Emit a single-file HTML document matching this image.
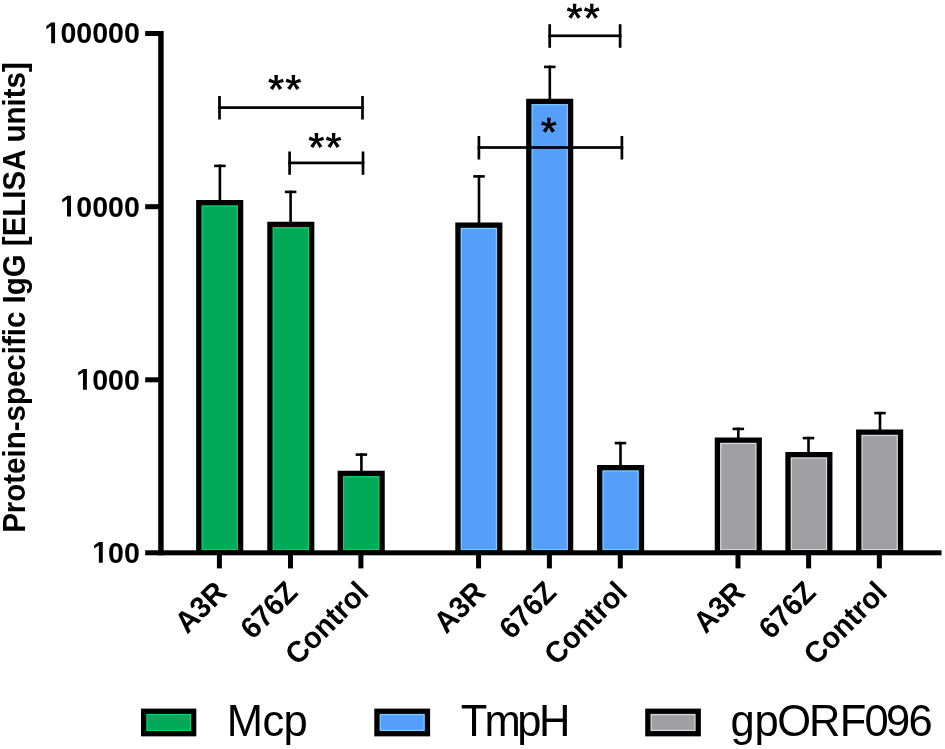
<!DOCTYPE html>
<html>
<head>
<meta charset="utf-8">
<title>Protein-specific IgG</title>
<style>
  html, body { margin: 0; padding: 0; background: #ffffff; }
  body { width: 945px; height: 749px; overflow: hidden; font-family: "Liberation Sans", sans-serif; }
  svg { display: block; will-change: transform; }
  text { font-family: "Liberation Sans", sans-serif; fill: #000; }
  .b { font-weight: bold; }
  .tick { font-size: 28.6px; font-weight: bold; text-anchor: end; }
  .xl { font-size: 28.9px; font-weight: bold; text-anchor: end; }
  .leg { font-size: 43.5px; }
</style>
</head>
<body>
<svg width="945" height="749" viewBox="0 0 945 749">
  <rect x="0" y="0" width="945" height="749" fill="#ffffff"/>

  <!-- bars -->
  <rect x="196.15" y="200.00" width="47.10" height="351.30" fill="#000"/>
  <rect x="201.45" y="205.30" width="36.50" height="345.00" fill="#00d672"/>
  <rect x="202.70" y="206.55" width="34.00" height="342.50" fill="#00a857"/>
  <rect x="267.25" y="221.75" width="47.10" height="329.55" fill="#000"/>
  <rect x="272.55" y="227.05" width="36.50" height="323.25" fill="#00d672"/>
  <rect x="273.80" y="228.30" width="34.00" height="320.75" fill="#00a857"/>
  <rect x="337.65" y="470.75" width="47.10" height="80.55" fill="#000"/>
  <rect x="342.95" y="476.05" width="36.50" height="74.25" fill="#00d672"/>
  <rect x="344.20" y="477.30" width="34.00" height="71.75" fill="#00a857"/>
  <rect x="455.30" y="222.50" width="47.10" height="328.80" fill="#000"/>
  <rect x="460.60" y="227.80" width="36.50" height="322.50" fill="#76d0ff"/>
  <rect x="461.85" y="229.05" width="34.00" height="320.00" fill="#559ffb"/>
  <rect x="526.15" y="98.75" width="47.10" height="452.55" fill="#000"/>
  <rect x="531.45" y="104.05" width="36.50" height="446.25" fill="#76d0ff"/>
  <rect x="532.70" y="105.30" width="34.00" height="443.75" fill="#559ffb"/>
  <rect x="597.05" y="465.00" width="47.10" height="86.30" fill="#000"/>
  <rect x="602.35" y="470.30" width="36.50" height="80.00" fill="#76d0ff"/>
  <rect x="603.60" y="471.55" width="34.00" height="77.50" fill="#559ffb"/>
  <rect x="714.75" y="437.50" width="47.10" height="113.80" fill="#000"/>
  <rect x="720.05" y="442.80" width="36.50" height="107.50" fill="#d9d9dd"/>
  <rect x="721.30" y="444.05" width="34.00" height="105.00" fill="#a09fa3"/>
  <rect x="785.35" y="452.00" width="47.10" height="99.30" fill="#000"/>
  <rect x="790.65" y="457.30" width="36.50" height="93.00" fill="#d9d9dd"/>
  <rect x="791.90" y="458.55" width="34.00" height="90.50" fill="#a09fa3"/>
  <rect x="856.10" y="429.50" width="47.10" height="121.80" fill="#000"/>
  <rect x="861.40" y="434.80" width="36.50" height="115.50" fill="#d9d9dd"/>
  <rect x="862.65" y="436.05" width="34.00" height="113.00" fill="#a09fa3"/>
  <!-- error bars -->
  <g fill="#000">
    <rect x="218.60" y="164.60" width="2.6" height="36.40"/><rect x="214.15" y="164.60" width="11.5" height="2.6"/>
    <rect x="289.30" y="190.60" width="2.6" height="32.15"/><rect x="284.85" y="190.60" width="11.5" height="2.6"/>
    <rect x="360.10" y="453.30" width="2.6" height="18.45"/><rect x="355.65" y="453.30" width="11.5" height="2.6"/>
    <rect x="477.70" y="175.10" width="2.6" height="48.40"/><rect x="473.25" y="175.10" width="11.5" height="2.6"/>
    <rect x="548.50" y="65.60" width="2.6" height="34.15"/><rect x="544.05" y="65.60" width="11.5" height="2.6"/>
    <rect x="619.20" y="441.80" width="2.6" height="24.20"/><rect x="614.75" y="441.80" width="11.5" height="2.6"/>
    <rect x="737.00" y="427.60" width="2.6" height="10.90"/><rect x="732.55" y="427.60" width="11.5" height="2.6"/>
    <rect x="807.20" y="436.80" width="2.6" height="16.20"/><rect x="802.75" y="436.80" width="11.5" height="2.6"/>
    <rect x="878.70" y="411.80" width="2.6" height="18.70"/><rect x="874.25" y="411.80" width="11.5" height="2.6"/>
  </g>
  <!-- axes -->
  <g fill="#000">
    <rect x="158.2" y="31" width="5.45" height="524.30"/>
    <rect x="145.2" y="550.3" width="796.30" height="5.00"/>
    <rect x="145.2" y="31.00" width="14" height="5"/>
    <rect x="145.2" y="204.20" width="14" height="5"/>
    <rect x="145.2" y="377.30" width="14" height="5"/>
    <rect x="216.90" y="554.3" width="5" height="14.10"/>
    <rect x="288.00" y="554.3" width="5" height="14.10"/>
    <rect x="358.40" y="554.3" width="5" height="14.10"/>
    <rect x="476.05" y="554.3" width="5" height="14.10"/>
    <rect x="546.90" y="554.3" width="5" height="14.10"/>
    <rect x="617.80" y="554.3" width="5" height="14.10"/>
    <rect x="735.50" y="554.3" width="5" height="14.10"/>
    <rect x="806.10" y="554.3" width="5" height="14.10"/>
    <rect x="876.85" y="554.3" width="5" height="14.10"/>
  </g>
  <!-- significance brackets -->
  <g fill="#000">
    <rect x="218.15" y="106.25" width="145.70" height="2.7"/>
    <rect x="218.15" y="96.00" width="2.7" height="23.50"/>
    <rect x="361.15" y="96.00" width="2.7" height="23.50"/>
    <rect x="288.25" y="161.55" width="76.10" height="2.7"/>
    <rect x="288.25" y="151.50" width="2.7" height="23.30"/>
    <rect x="361.65" y="151.50" width="2.7" height="23.30"/>
    <rect x="548.35" y="34.45" width="73.10" height="2.7"/>
    <rect x="548.35" y="24.20" width="2.7" height="23.60"/>
    <rect x="618.75" y="24.20" width="2.7" height="23.60"/>
    <rect x="477.55" y="146.15" width="145.70" height="2.7"/>
    <rect x="477.55" y="136.00" width="2.7" height="23.50"/>
    <rect x="620.55" y="136.00" width="2.7" height="23.50"/>
  </g>
  <!-- asterisks -->
  <g fill="#000">
    <path transform="translate(276.1,82.5) scale(0.02038)" d="M74.2 -85.8 L323.8 -189.2 L380.2 -24.8 L114.2 42.2 L299.8 273.8 L148.2 370.2 L0.2 115.2 L-152.2 369.2 L-304.8 271.8 L-115.2 42.2 L-380.2 -24.8 L-323.8 -190.2 L-70.8 -84.8 L-85.8 -370.2 L89.8 -370.2Z"/>
    <path transform="translate(293.35,82.5) scale(0.02038)" d="M74.2 -85.8 L323.8 -189.2 L380.2 -24.8 L114.2 42.2 L299.8 273.8 L148.2 370.2 L0.2 115.2 L-152.2 369.2 L-304.8 271.8 L-115.2 42.2 L-380.2 -24.8 L-323.8 -190.2 L-70.8 -84.8 L-85.8 -370.2 L89.8 -370.2Z"/>
    <path transform="translate(316.4,140.5) scale(0.02038)" d="M74.2 -85.8 L323.8 -189.2 L380.2 -24.8 L114.2 42.2 L299.8 273.8 L148.2 370.2 L0.2 115.2 L-152.2 369.2 L-304.8 271.8 L-115.2 42.2 L-380.2 -24.8 L-323.8 -190.2 L-70.8 -84.8 L-85.8 -370.2 L89.8 -370.2Z"/>
    <path transform="translate(333.6,140.5) scale(0.02038)" d="M74.2 -85.8 L323.8 -189.2 L380.2 -24.8 L114.2 42.2 L299.8 273.8 L148.2 370.2 L0.2 115.2 L-152.2 369.2 L-304.8 271.8 L-115.2 42.2 L-380.2 -24.8 L-323.8 -190.2 L-70.8 -84.8 L-85.8 -370.2 L89.8 -370.2Z"/>
    <path transform="translate(574.55,11.2) scale(0.02038)" d="M74.2 -85.8 L323.8 -189.2 L380.2 -24.8 L114.2 42.2 L299.8 273.8 L148.2 370.2 L0.2 115.2 L-152.2 369.2 L-304.8 271.8 L-115.2 42.2 L-380.2 -24.8 L-323.8 -190.2 L-70.8 -84.8 L-85.8 -370.2 L89.8 -370.2Z"/>
    <path transform="translate(591.75,11.2) scale(0.02038)" d="M74.2 -85.8 L323.8 -189.2 L380.2 -24.8 L114.2 42.2 L299.8 273.8 L148.2 370.2 L0.2 115.2 L-152.2 369.2 L-304.8 271.8 L-115.2 42.2 L-380.2 -24.8 L-323.8 -190.2 L-70.8 -84.8 L-85.8 -370.2 L89.8 -370.2Z"/>
    <path transform="translate(548.85,125.25) scale(0.02038)" d="M74.2 -85.8 L323.8 -189.2 L380.2 -24.8 L114.2 42.2 L299.8 273.8 L148.2 370.2 L0.2 115.2 L-152.2 369.2 L-304.8 271.8 L-115.2 42.2 L-380.2 -24.8 L-323.8 -190.2 L-70.8 -84.8 L-85.8 -370.2 L89.8 -370.2Z"/>
  </g>
  <!-- y tick labels -->
  <g transform="translate(139.9,43.35) scale(1,1.055)">
    <text class="tick" x="0" y="0">00000</text>
    <path transform="translate(-95.44,0) scale(0.013965,-0.013965)" d="M478 0V1170L140 959V1180L493 1409H759V0Z"/>
  </g>
  <g transform="translate(139.9,216.55) scale(1,1.055)">
    <text class="tick" x="0" y="0">0000</text>
    <path transform="translate(-79.53,0) scale(0.013965,-0.013965)" d="M478 0V1170L140 959V1180L493 1409H759V0Z"/>
  </g>
  <g transform="translate(139.9,389.65) scale(1,1.055)">
    <text class="tick" x="0" y="0">000</text>
    <path transform="translate(-63.62,0) scale(0.013965,-0.013965)" d="M478 0V1170L140 959V1180L493 1409H759V0Z"/>
  </g>
  <g transform="translate(139.9,562.65) scale(1,1.055)">
    <text class="tick" x="0" y="0">00</text>
    <path transform="translate(-47.72,0) scale(0.013965,-0.013965)" d="M478 0V1170L140 959V1180L493 1409H759V0Z"/>
  </g>
  <!-- y axis title -->
  <text class="b" font-size="29.5" text-anchor="middle" transform="translate(24.6,297.5) rotate(-90) scale(1,1.04)">Protein-specific IgG [ELISA units]</text>
  <!-- x labels -->
  <text class="xl" transform="translate(228.2,594) rotate(-45) scale(1,1.04)">A3R</text>
  <text class="xl" transform="translate(299.2,594) rotate(-45) scale(1,1.04)">676Z</text>
  <text class="xl" transform="translate(370.2,594) rotate(-45) scale(1,1.04)">Control</text>
  <text class="xl" transform="translate(487,594) rotate(-45) scale(1,1.04)">A3R</text>
  <text class="xl" transform="translate(558,594) rotate(-45) scale(1,1.04)">676Z</text>
  <text class="xl" transform="translate(629,594) rotate(-45) scale(1,1.04)">Control</text>
  <text class="xl" transform="translate(746.6,594) rotate(-45) scale(1,1.04)">A3R</text>
  <text class="xl" transform="translate(817.6,594) rotate(-45) scale(1,1.04)">676Z</text>
  <text class="xl" transform="translate(888.6,594) rotate(-45) scale(1,1.04)">Control</text>
  <!-- legend -->
  <rect x="141.0" y="708.6" width="55.30" height="27.75" fill="#000"/>
  <rect x="146.3" y="713.9" width="44.70" height="17.15" fill="#00d672"/>
  <rect x="147.55" y="715.15" width="42.20" height="14.65" fill="#00a857"/>
  <rect x="374.3" y="708.6" width="55.80" height="27.75" fill="#000"/>
  <rect x="379.6" y="713.9" width="45.20" height="17.15" fill="#76d0ff"/>
  <rect x="380.85" y="715.15" width="42.70" height="14.65" fill="#559ffb"/>
  <rect x="645.2" y="708.6" width="55.70" height="27.75" fill="#000"/>
  <rect x="650.5" y="713.9" width="45.10" height="17.15" fill="#d9d9dd"/>
  <rect x="651.75" y="715.15" width="42.60" height="14.65" fill="#a09fa3"/>
  <text class="leg" transform="translate(0,736.0) scale(1,1.04)" x="226.83 262.45 283.40" y="0">Mcp</text>
  <text class="leg" transform="translate(0,736.0) scale(1,1.04)" x="460.82 484.61 517.20 538.93" y="0">TmpH</text>
  <text class="leg" transform="translate(0,736.0) scale(1,1.04)" x="730.47 754.50 777.14 809.03 839.73 864.40 886.06 908.39" y="0">gpORF096</text>
</svg>
</body>
</html>
